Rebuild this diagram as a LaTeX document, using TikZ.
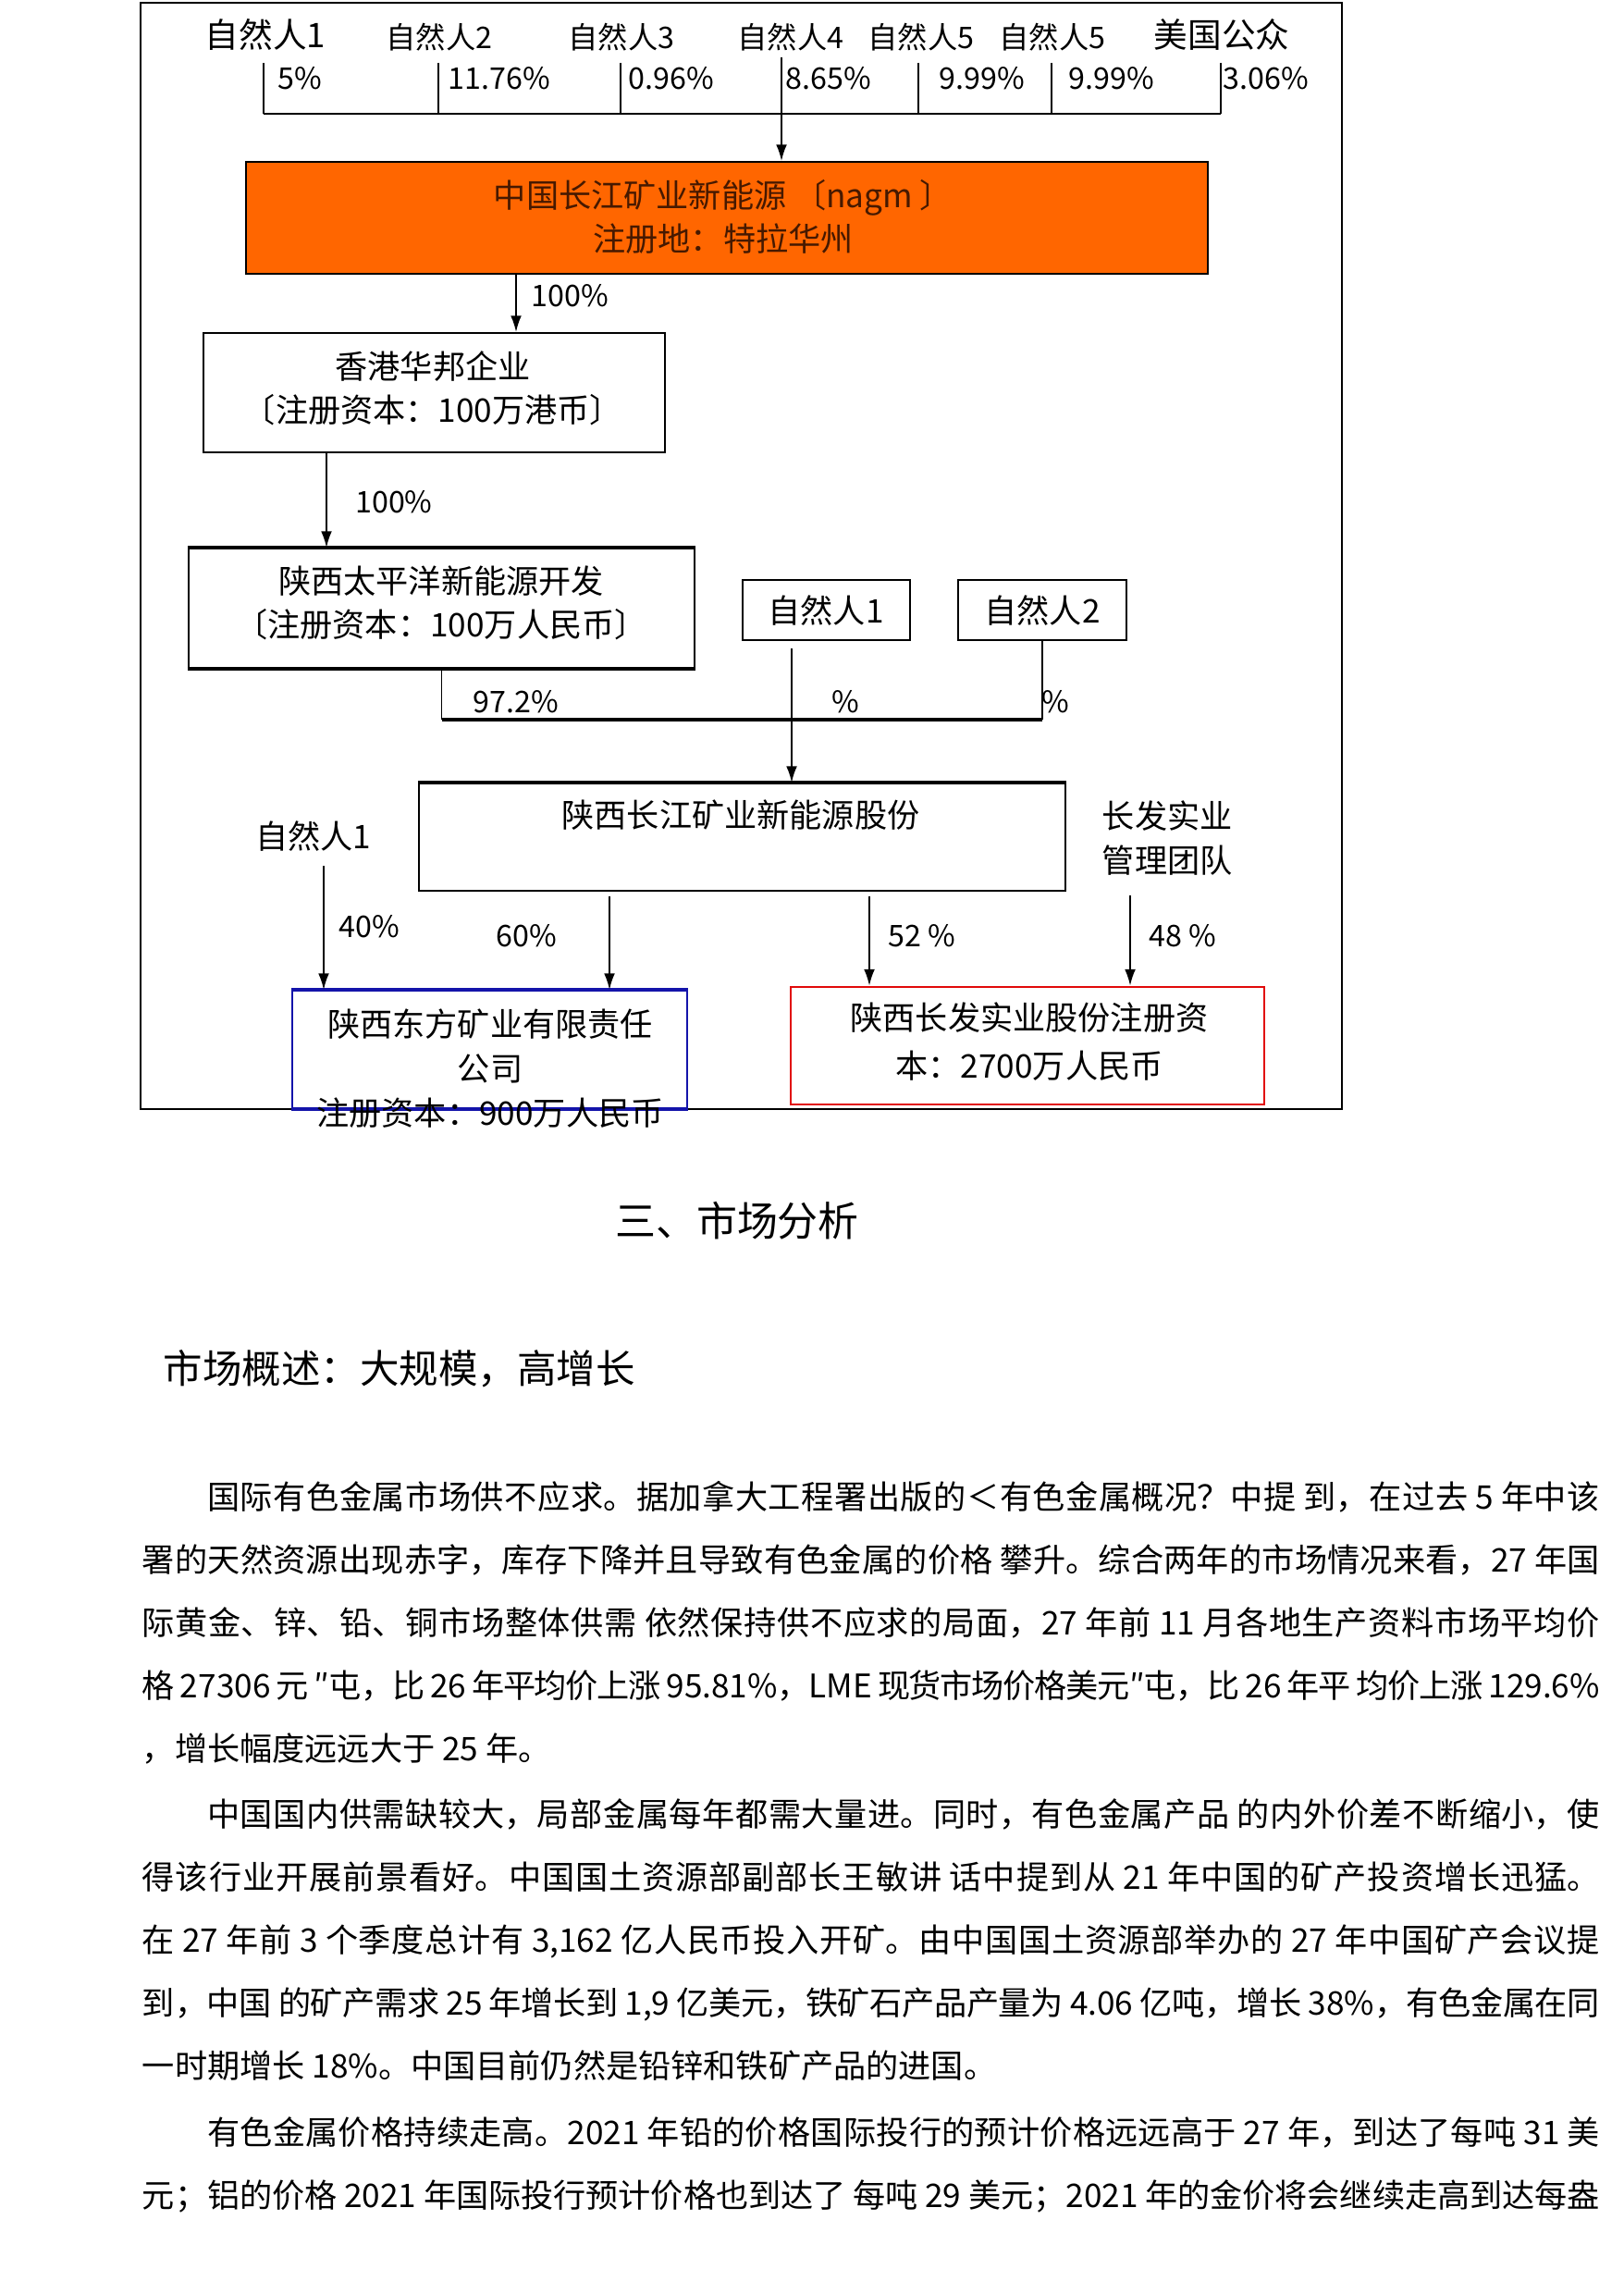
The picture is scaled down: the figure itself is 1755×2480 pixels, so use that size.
\documentclass[tikz,border=0pt]{standalone}
\usepackage{fontspec}
\setmainfont{Noto Sans CJK SC}
\usetikzlibrary{positioning,arrows.meta,fit,calc}
\XeTeXlinebreaklocale "zh"
\XeTeXlinebreakskip=0pt plus 2pt minus 0.6pt
\definecolor{orangefill}{RGB}{255,102,0}
\definecolor{browntext}{RGB}{70,25,0}
\definecolor{boxblue}{RGB}{20,20,170}
\definecolor{boxred}{RGB}{225,10,10}

\begin{document}
\begin{tikzpicture}[
  x=0.012cm, y=-0.012cm,
  line width=0.6pt,
  every node/.style={inner sep=0pt, font=\fontsize{12pt}{16pt}\selectfont},
  box/.style={draw, line width=0.7pt},
  txt/.style={align=center},
  pct/.style={font=\fontsize{11pt}{14pt}\selectfont},
  arr/.style={-{Latex[length=6pt,width=4pt]}}
]
\useasboundingbox (0,0) rectangle (1755,2480);

% 外框
\draw[line width=0.7pt] (152,3) rectangle (1451,1199);

% 股东
\node[font=\fontsize{12.5pt}{15pt}\selectfont] (gd1) at (287,37) {自然人1};
\foreach \n/\x/\t in {2/475/自然人2, 3/672/自然人3, 4/855/自然人4,
                      5/996/自然人5, 6/1138/自然人5}
  \node[pct] (gd\n) at (\x,40) {\t};
\node[font=\fontsize{12.5pt}{15pt}\selectfont] (gd7) at (1321,37) {美国公众};

\foreach \n/\x/\t in {1/300/5, 2/484/11.76, 3/679/0.96, 4/849/8.65,
                      5/1015/9.99, 6/1155/9.99, 7/1322/3.06}
  \node[pct, anchor=west] (pc\n) at (\x,85) {\t\%};
\foreach \x in {285,474,671,993,1137,1320}
  \draw (\x,68) -- (\x,123);
\draw[line width=0.9pt] (285,123) -- (1320,123);

% 中国长江矿业新能源
\node[box, fill=orangefill, fit={(266,175) (1306,296)}] (nagm) {};
\node[txt, text=browntext] (nagmt) at (782,234)
  {中国长江矿业新能源 〔nagm 〕\\注册地：特拉华州};
\coordinate (top) at (845,62);
\draw[arr] (top) -- (top |- nagm.north);

% 香港华邦
\node[box, fit={(220,360) (719,489)}] (hk) {};
\node[txt] (hkt) at (468,420) {香港华邦企业\\〔注册资本：100万港币〕};
\coordinate (c1) at (558,0);
\draw[arr] (nagm.south -| c1) -- (hk.north -| c1);
\node[pct] (l1) at (616,320) {100\%};

% 陕西太平洋
\node[box, fit={(204,593) (751,722)}] (ty) {};
\draw[line width=1.5pt] (ty.north west) -- (ty.north east)
                        (ty.south west) -- (ty.south east);
\node[txt] (tyt) at (477,652) {陕西太平洋新能源开发\\〔注册资本：100万人民币〕};
\coordinate (c2) at (353,0);
\draw[arr] (hk.south -| c2) -- (ty.north -| c2);
\node[pct] (l2) at (426,543) {100\%};

\node[box, line width=1pt, fit={(803,627) (984,692)}] (zr1) {};
\node (zr1t) at (893,660) {自然人1};
\node[box, line width=1pt, fit={(1036,627) (1218,692)}] (zr2) {};
\node (zr2t) at (1127,660) {自然人2};

% 合并
\coordinate (bar) at (0,778);
\draw (ty.south) -- (ty.south |- bar);
\draw (zr2.south) -- (zr2.south |- bar);
\draw[line width=1.3pt] (ty.south |- bar) -- (zr2.south |- bar);
\node[pct] (l3) at (558,759) {97.2\%};
\node[pct] (l4) at (914,759) {\%};
\node[pct] (l5) at (1141,759) {\%};

% 陕西长江矿业新能源股份
\node[box, fit={(453,847) (1152,963)}] (cj) {};
\draw[line width=1.5pt] (cj.north west) -- (cj.north east);
\node (cjt) at (801,881) {陕西长江矿业新能源股份};
\coordinate (c3) at (856,0);
\draw[arr, shorten <=2.7pt] (zr1.south -| c3) -- (cj.north -| c3);

\node (zr3) at (339,904) {自然人1};
\node[align=left, anchor=west, font=\fontsize{12pt}{16.4pt}\selectfont] (mg)
  at (1191,906) {长发实业\\管理团队};

% 子公司
\node[box, draw=boxblue, fit={(316,1071) (743,1198)}] (df) {};
\draw[boxblue, line width=1.3pt] (df.north west) -- (df.north east)
                                 (df.south west) -- (df.south east);
\node[txt, font=\fontsize{12pt}{16.5pt}\selectfont] (dft) at (530,1155)
  {陕西东方矿业有限责任\\公司\\注册资本：900万人民币};
\node[box, draw=boxred, line width=1pt, fit={(855,1067) (1367,1194)}] (cf) {};
\node[txt, font=\fontsize{12pt}{17.5pt}\selectfont] (cft) at (1113,1126)
  {陕西长发实业股份注册资\\本：2700万人民币};

\coordinate (c5) at (350,0);
\coordinate (c6) at (659,0);
\coordinate (c7) at (940,0);
\coordinate (m1) at (1222,968);
\draw[arr, shorten <=5pt] (zr3.south -| c5) -- (df.north -| c5);
\draw[arr, shorten <=1.7pt] (cj.south -| c6) -- (df.north -| c6);
\draw[arr, shorten <=1.7pt] (cj.south -| c7) -- (cf.north -| c7);
\draw[arr] (m1) -- (m1 |- cf.north);
\node[pct] (l6) at (399,1002) {40\%};
\node[pct] (l7) at (569,1012) {60\%};
\node[pct] (l8) at (997,1012) {52 \%};
\node[pct] (l9) at (1279,1012) {48 \%};

% 三、市场分析
\node[font=\fontsize{15pt}{18pt}\selectfont] (h3) at (797,1320) {三、市场分析};
\node[font=\fontsize{14.5pt}{18pt}\selectfont, anchor=west] (h31) at (176,1480)
  {市场概述：大规模，高增长};

\node[anchor=north west, text width=18.9cm, align=justify,
  font=\fontsize{12pt}{23.2pt}\selectfont] (body) at (153,1600) {%
\setlength{\parskip}{1.2pt}%
\hspace*{2em}国际有色金属市场供不应求。据加拿大工程署出版的＜有色金属概况？中提 到，在过去 5 年中该\linebreak
署的天然资源出现赤字，库存下降并且导致有色金属的价格 攀升。综合两年的市场情况来看，27 年国\linebreak
际黄金、锌、铅、铜市场整体供需 依然保持供不应求的局面，27 年前 11 月各地生产资料市场平均价\linebreak
格 27306 元 ″屯，比 26 年平均价上涨 95.81\%，LME 现货市场价格美元″屯，比 26 年平 均价上涨 129.6\%\linebreak
，增长幅度远远大于 25 年。\par
\hspace*{2em}中国国内供需缺较大，局部金属每年都需大量进。同时，有色金属产品 的内外价差不断缩小，使\linebreak
得该行业开展前景看好。中国国土资源部副部长王敏讲 话中提到从 21 年中国的矿产投资增长迅猛。\linebreak
在 27 年前 3 个季度总计有 3,162 亿人民币投入开矿。由中国国土资源部举办的 27 年中国矿产会议提\linebreak
到，中国 的矿产需求 25 年增长到 1,9 亿美元，铁矿石产品产量为 4.06 亿吨，增长 38\%，有色金属在同\linebreak
一时期增长 18\%。中国目前仍然是铅锌和铁矿产品的进国。\par
\hspace*{2em}有色金属价格持续走高。2021 年铅的价格国际投行的预计价格远远高于 27 年，到达了每吨 31 美\linebreak
元；铝的价格 2021 年国际投行预计价格也到达了 每吨 29 美元；2021 年的金价将会继续走高到达每盎};
\end{tikzpicture}
\end{document}
